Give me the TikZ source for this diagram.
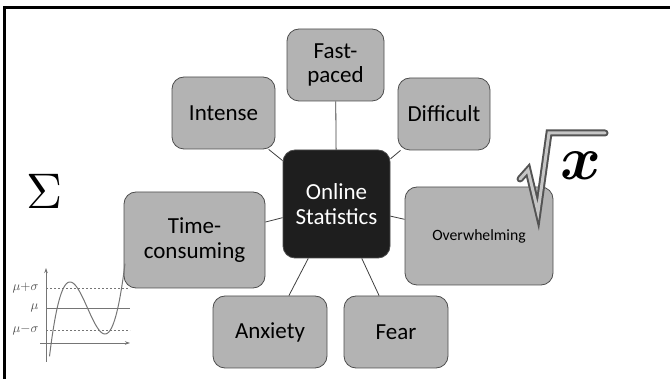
\documentclass[tikz,border=0pt]{standalone}
\usepackage{amsmath}
\usepackage{fontspec}
\setmainfont{Carlito}
\usetikzlibrary{arrows.meta}
\definecolor{boxfill}{HTML}{B3B3B3}
\definecolor{boxline}{HTML}{4D4D4D}
\definecolor{hubfill}{HTML}{1E1E1E}
\definecolor{linkcol}{HTML}{3F3F3F}
\definecolor{plotcol}{HTML}{757575}
\definecolor{labcol}{HTML}{505050}
\begin{document}
\begin{tikzpicture}[x=1pt,y=-1pt,
  box/.style={draw=boxline, fill=boxfill, rounded corners=12pt, line width=0.8pt,
    inner sep=0pt, align=center, font=\fontsize{23}{24.5}\selectfont, text=black},
  hub/.style={box, fill=hubfill, text=white},
  link/.style={draw=linkcol, line width=0.8pt},
  axis/.style={draw=plotcol, line width=0.8pt, -{Stealth[length=5pt,width=3.5pt]}},
  lvl/.style={draw=plotcol, line width=0.8pt},
  lab/.style={text=labcol, anchor=east, inner sep=1pt, scale=1.3}]
\useasboundingbox (0,0) rectangle (670,379);
% frame
\draw[line width=3pt, black] (4.5,379) -- (4.5,7.5) -- (670,7.5);
% nodes
\node[hub, minimum width=107pt, minimum height=108pt] (hub) at (336.5,204) {Online\\Statistics};
\node[box, minimum width=97pt, minimum height=72pt] (fast) at (335.5,65) {Fast-\\paced};
\node[box, minimum width=103pt, minimum height=72pt] (int) at (223.5,113) {Intense};
\node[box, minimum width=92pt, minimum height=72pt] (dif) at (444,114) {Difficult};
\node[box, minimum width=141pt, minimum height=96pt] (time) at (194.5,240) {Time-\\consuming};
\node[box, minimum width=148pt, minimum height=98pt, font=\fontsize{15.7}{18}\selectfont] (ovr) at (479,236) {Overwhelming};
\node[box, minimum width=114pt, minimum height=72pt] (anx) at (270,332) {Anxiety};
\node[box, minimum width=104pt, minimum height=72pt] (fear) at (396,332) {Fear};
% connectors
\foreach \n in {fast,int,dif,time,ovr,anx,fear}
  \draw[link] (hub) -- (\n);
% sigma
\node[inner sep=0pt, scale=5] (sig) at (44.5,191) {$\Sigma$};
% square root of x
\draw[line width=7pt, gray!65!black, line join=miter, line cap=round]
  (520,179) -- (528,170) -- (538,212) -- (549,133) -- (605,133);
\draw[line width=3pt, gray!45, line join=miter, line cap=round]
  (520,179) -- (528,170) -- (538,212) -- (549,133) -- (605,133);
\node[inner sep=0pt, scale=6.2] (xx) at (581,166) {$\boldsymbol{x}$};
% plot
\coordinate (ya) at (46,362);
\coordinate (yb) at (46,268);
\coordinate (xa) at (40,343);
\coordinate (xb) at (130,343);
\draw[axis] (ya) -- (yb);
\draw[axis] (xa) -- (xb);
\coordinate (p1) at (46,288); \coordinate (q1) at (130,288);
\coordinate (p2) at (46,308); \coordinate (q2) at (130,308);
\coordinate (p3) at (46,330); \coordinate (q3) at (130,330);
\draw[lvl, dash pattern=on 2pt off 2pt] (p1) -- (q1);
\draw[lvl] (p2) -- (q2);
\draw[lvl, dash pattern=on 2pt off 2pt] (p3) -- (q3);
\node[lab] (l1) at (40,288) {$\mu{+}\sigma$};
\node[lab] (l2) at (40,308) {$\mu$};
\node[lab] (l3) at (40,330) {$\mu{-}\sigma$};
\draw[plotcol, line width=1pt, domain=-38:37.5, samples=80, smooth]
  plot ({87.5+\x}, {308 - 2.426*(\x/10)*(\x/10)*(\x/10) + 2.229*\x});
\end{tikzpicture}
\end{document}
